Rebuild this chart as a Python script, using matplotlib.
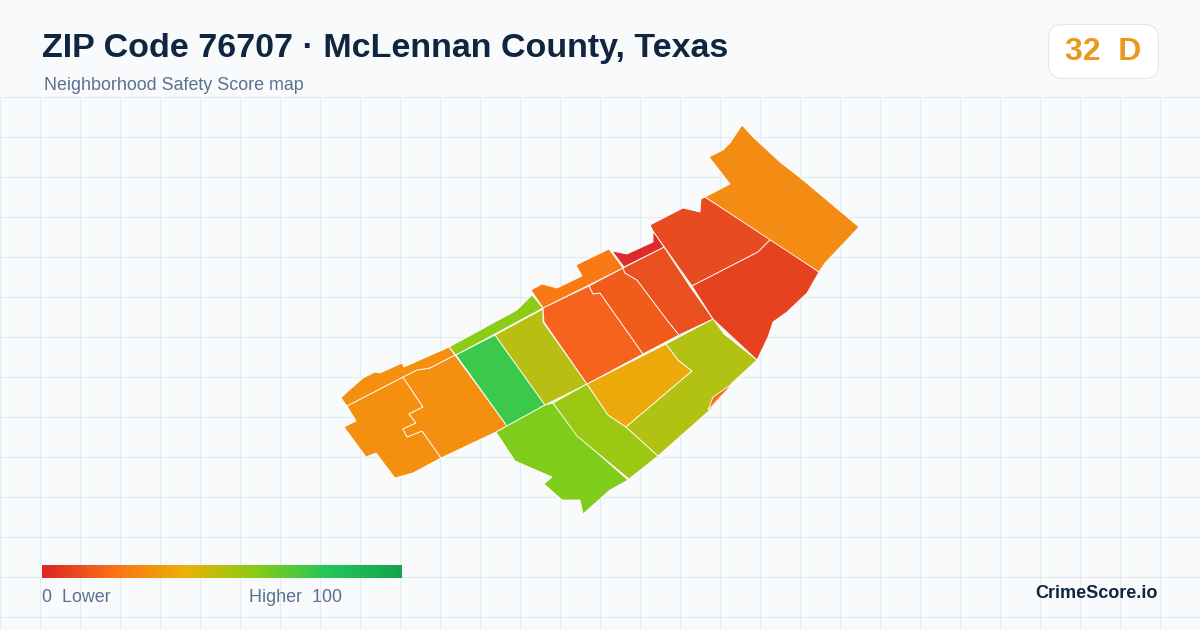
import numpy as np
import matplotlib
matplotlib.use('Agg')
import matplotlib.pyplot as plt
from matplotlib.colors import LinearSegmentedColormap
from matplotlib.patches import FancyBboxPatch, Polygon

plt.rcParams['font.family'] = ['Liberation Sans', 'DejaVu Sans']

# tract outlines, in map pixels
west = [(347,406),(403,377),(423,407),(409,414),(416,423),(403,429),(407,437),(422,431),(441,458),
        (413,473),(395,478),(376,453),(366,457),(344,427),(356,421)]
west_mid = [(403,377),(417,370),(430,368),(455,355),(507,426),(496,432),(441,458),(422,431),(407,437),
            (403,429),(416,423),(409,414),(423,407)]
west_strip = [(341,398),(346,393),(363,378),(375,372),(380,373),(402,363),(404,367),(449,347),(455,355),
              (430,368),(417,370),(403,377),(347,406)]
lime_strip = [(449,347),(517,310),(532,295),(543,308),(456,355)]
green = [(456,355),(495,335),(545,405),(507,426)]
olive = [(495,335),(543,309),(543,322),(587,384),(545,405)]
south = [(496,432),(507,426),(545,405),(553,403),(577,435),(628,480),(610,490),(583,514),(580,500),
         (562,500),(544,484),(552,477),(515,461)]
south_mid = [(553,403),(587,384),(600,403),(608,415),(626,427),(658,456),(629,479),(577,436)]
gold = [(587,384),(666,344),(678,360),(692,371),(626,427),(608,415),(600,403)]
east_green = [(666,344),(713,319),(724,334),(757,360),(732,383),(710,410),(658,456),(626,427),(692,371),(678,360)]
sliver = [(708,410),(713,397),(732,384),(727,390)]
mid_a = [(543,308),(589,286),(593,294),(600,293),(643,354),(587,384),(544,322)]
mid_b = [(589,286),(623,268),(625,273),(637,280),(667,320),(679,335),(643,354),(600,293),(593,294)]
mid_c = [(623,268),(664,247),(691,288),(713,319),(679,335),(667,320),(637,280),(625,273)]
north_strip = [(531,290),(542,284),(557,288),(582,276),(576,265),(609,249),(623,268),(543,308)]
dark_red = [(612,251),(627,254),(653,242),(653,231),(664,247),(624,267)]
north = [(650,225),(683,208),(700,212),(701,199),(705,197),(771,239),(758,252),(692,286),(653,231)]
east_red = [(692,286),(758,252),(771,239),(819,272),(807,293),(787,312),(773,322),(768,337),(757,360),
            (713,319)]
northeast = [(742,125),(753,137),(780,162),(803,180),(859,227),(825,263),(819,272),(705,197),(730,184),
             (709,157),(723,150),(730,143)]

tracts = [west, west_mid, west_strip, lime_strip, green, olive, south, south_mid, gold, east_green, sliver,
          mid_a, mid_b, mid_c, north_strip, dark_red, north, east_red, northeast]
tract_colors = ['#f48f10', '#f48f10', '#f48f10', '#8ccb16', '#3bc94c', '#b8be12', '#80cc1a', '#9cc813',
                '#ecaa0a', '#b2c212', '#f97316', '#f5631c', '#f25c1b', '#ea4f1f', '#f97a14', '#de2b29',
                '#e84b1f', '#e74220', '#f48c13']

scale_stops = [0, 0.2, 0.4, 0.6, 0.8, 1]
scale_colors = ['#dc2626', '#f97316', '#eab308', '#84cc16', '#22c55e', '#16a34a']

fig = plt.figure(figsize=(12, 6.3), dpi=100, facecolor='#f8fafc')
ax = fig.add_axes([0, 0, 1, 1])
ax.set_xlim(0, 1200)
ax.set_ylim(630, 0)
ax.axis('off')

# background grid, starts under the header
for x in range(0, 1200, 40):
    ax.plot([x, x], [97, 630], color='#e3ecf1', lw=0.8, zorder=1)
for y in range(97, 630, 40):
    ax.plot([0, 1200], [y, y], color='#e3ecf1', lw=0.8, zorder=1)

for pts, col in zip(tracts, tract_colors):
    ax.add_patch(Polygon(pts, closed=True, facecolor=col, edgecolor='white', lw=0.6, zorder=2))

ax.text(42, 49, 'ZIP Code 76707 · McLennan County, Texas', fontsize=24.47, fontweight='bold',
        color='#0f2540', va='center', ha='left')
ax.text(44, 85.5, 'Neighborhood Safety Score map', fontsize=12.9, color='#5b7190', va='center', ha='left')

badge = FancyBboxPatch((1048.5, 24.5), 110, 54, boxstyle='round,pad=0,rounding_size=14',
                       facecolor='white', edgecolor='#e2e8f0', lw=0.8, zorder=3)
ax.add_patch(badge)
ax.text(1103, 52, '32  D', fontsize=23, fontweight='bold', color='#ea9a1b', va='center', ha='center', zorder=4)

cmap = LinearSegmentedColormap.from_list('score', list(zip(scale_stops, scale_colors)))
ax.imshow(np.linspace(0, 1, 360).reshape(1, -1), cmap=cmap, extent=(42, 402, 578, 565), aspect='auto', zorder=3)
ax.set_xlim(0, 1200)
ax.set_ylim(630, 0)

ax.text(42, 598, '0  Lower', fontsize=12.9, color='#5b7190', va='center', ha='left')
ax.text(249, 598, 'Higher  100', fontsize=12.9, color='#5b7190', va='center', ha='left')
ax.text(1158, 594, 'CrimeScore.io', fontsize=13, fontweight='bold', color='#0f2540', va='center', ha='right')

fig.savefig('out.png', dpi=100, facecolor=fig.get_facecolor())
